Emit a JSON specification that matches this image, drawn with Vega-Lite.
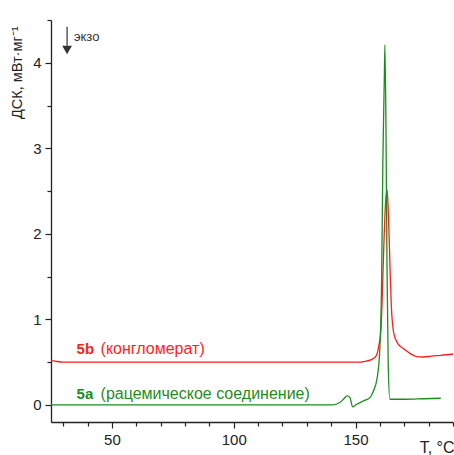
{
  "$schema": "https://vega.github.io/schema/vega-lite/v6.json",
  "width": 402,
  "height": 402,
  "autosize": "none",
  "padding": {"left": 51, "top": 20, "right": 1, "bottom": 33},
  "config": {"view": {"stroke": null}, "font": "Liberation Sans"},
  "datasets": {
    "curves": [
      {"series": "5b", "T": 25, "DSC": 0.52},
      {"series": "5b", "T": 27, "DSC": 0.51},
      {"series": "5b", "T": 30, "DSC": 0.5},
      {"series": "5b", "T": 50, "DSC": 0.5},
      {"series": "5b", "T": 80, "DSC": 0.5},
      {"series": "5b", "T": 110, "DSC": 0.5},
      {"series": "5b", "T": 140, "DSC": 0.5},
      {"series": "5b", "T": 150, "DSC": 0.5},
      {"series": "5b", "T": 154, "DSC": 0.51},
      {"series": "5b", "T": 156.5, "DSC": 0.53},
      {"series": "5b", "T": 158.4, "DSC": 0.57},
      {"series": "5b", "T": 159.6, "DSC": 0.7},
      {"series": "5b", "T": 160.4, "DSC": 0.87},
      {"series": "5b", "T": 161, "DSC": 1.3},
      {"series": "5b", "T": 161.6, "DSC": 1.85},
      {"series": "5b", "T": 162.2, "DSC": 2.3},
      {"series": "5b", "T": 162.9, "DSC": 2.52},
      {"series": "5b", "T": 163.4, "DSC": 2.3},
      {"series": "5b", "T": 164.1, "DSC": 1.65},
      {"series": "5b", "T": 164.7, "DSC": 1.15},
      {"series": "5b", "T": 165.5, "DSC": 0.87},
      {"series": "5b", "T": 166.4, "DSC": 0.77},
      {"series": "5b", "T": 167.5, "DSC": 0.71},
      {"series": "5b", "T": 169, "DSC": 0.67},
      {"series": "5b", "T": 171, "DSC": 0.63},
      {"series": "5b", "T": 173, "DSC": 0.59},
      {"series": "5b", "T": 175, "DSC": 0.565},
      {"series": "5b", "T": 177.8, "DSC": 0.56},
      {"series": "5b", "T": 181, "DSC": 0.57},
      {"series": "5b", "T": 185, "DSC": 0.58},
      {"series": "5b", "T": 190, "DSC": 0.595},
      {"series": "5a", "T": 25, "DSC": 0.0},
      {"series": "5a", "T": 60, "DSC": 0.0},
      {"series": "5a", "T": 100, "DSC": 0.0},
      {"series": "5a", "T": 130, "DSC": 0.0},
      {"series": "5a", "T": 140.7, "DSC": 0.0},
      {"series": "5a", "T": 143.5, "DSC": 0.027},
      {"series": "5a", "T": 145.3, "DSC": 0.075},
      {"series": "5a", "T": 146.5, "DSC": 0.105},
      {"series": "5a", "T": 147.7, "DSC": 0.085},
      {"series": "5a", "T": 148.8, "DSC": -0.023},
      {"series": "5a", "T": 150.3, "DSC": 0.005},
      {"series": "5a", "T": 151.8, "DSC": 0.027},
      {"series": "5a", "T": 154, "DSC": 0.055},
      {"series": "5a", "T": 155.9, "DSC": 0.085},
      {"series": "5a", "T": 157.3, "DSC": 0.16},
      {"series": "5a", "T": 158.9, "DSC": 0.32},
      {"series": "5a", "T": 160, "DSC": 0.67},
      {"series": "5a", "T": 160.7, "DSC": 1.45},
      {"series": "5a", "T": 161.2, "DSC": 2.82},
      {"series": "5a", "T": 161.8, "DSC": 3.8},
      {"series": "5a", "T": 162.05, "DSC": 4.21},
      {"series": "5a", "T": 162.5, "DSC": 3.21},
      {"series": "5a", "T": 162.9, "DSC": 1.65},
      {"series": "5a", "T": 163.4, "DSC": 0.48},
      {"series": "5a", "T": 164.1, "DSC": 0.066},
      {"series": "5a", "T": 170, "DSC": 0.066},
      {"series": "5a", "T": 178, "DSC": 0.072},
      {"series": "5a", "T": 185, "DSC": 0.078}
    ],
    "labels": [
      {"series": "5b", "tag": "5b", "desc": "(конгломерат)", "T": 35.5, "DSC": 0.59},
      {"series": "5a", "tag": "5a", "desc": "(рацемическое соединение)", "T": 35.5, "DSC": 0.07}
    ],
    "arrow": [
      {"T": 31.6, "top": 4.42, "bottom": 4.2, "head": 4.15, "text": "экзо", "textT": 34.4, "textY": 4.3}
    ]
  },
  "layer": [
    {
      "data": {"name": "curves"},
      "mark": {"type": "line", "strokeWidth": 1.3, "interpolate": "monotone"},
      "encoding": {
        "x": {
          "field": "T", "type": "quantitative",
          "scale": {"domain": [25, 190], "nice": false, "zero": false},
          "axis": {
            "title": "T, °C", "titleFontSize": 16, "titleFontWeight": "normal", "titleColor": "#222",
            "titleAnchor": "end", "titleAlign": "right", "titleX": 403, "titleY": 30, "titleBaseline": "alphabetic",
            "values": [30, 40, 50, 60, 70, 80, 90, 100, 110, 120, 130, 140, 150, 160, 170, 180, 190],
            "tickCount": 60,
            "labelExpr": "datum.value % 50 === 0 ? format(datum.value, 'd') : ''",
            "tickSize": {"condition": {"test": "datum.value % 50 === 0", "value": 6}, "value": 4},
            "labelFontSize": 15, "labelColor": "#222", "labelPadding": 4,
            "domainColor": "#222", "tickColor": "#222", "domainWidth": 1.3, "tickWidth": 1.2,
            "grid": false, "labelFlush": false, "labelOverlap": false
          }
        },
        "y": {
          "field": "DSC", "type": "quantitative",
          "scale": {"domain": [-0.2, 4.5], "nice": false, "zero": false},
          "axis": {
            "title": "ДСК, мВт·мг⁻¹", "titleFontSize": 14.5, "titleFontWeight": "normal", "titleColor": "#222",
            "titleAnchor": "end", "titleAngle": -90, "titleAlign": "right", "titleBaseline": "bottom",
            "titleX": -27, "titleY": 6,
            "values": [0, 0.5, 1, 1.5, 2, 2.5, 3, 3.5, 4, 4.5],
            "tickCount": 60,
            "labelExpr": "datum.value % 1 === 0 ? format(datum.value, 'd') : ''",
            "tickSize": {"condition": {"test": "datum.value % 1 === 0", "value": 6}, "value": 4},
            "labelFontSize": 15, "labelColor": "#222", "labelPadding": 4,
            "domainColor": "#222", "tickColor": "#222", "domainWidth": 1.3, "tickWidth": 1.2,
            "grid": false, "labelFlush": false, "labelOverlap": false
          }
        },
        "color": {
          "field": "series", "type": "nominal",
          "scale": {"domain": ["5a", "5b"], "range": ["#1e8c1e", "#ff1e1e"]},
          "legend": null
        }
      }
    },
    {
      "data": {"name": "labels"},
      "mark": {"type": "text", "align": "left", "baseline": "alphabetic", "fontSize": 15, "fontWeight": "bold"},
      "encoding": {
        "x": {"field": "T", "type": "quantitative"},
        "y": {"field": "DSC", "type": "quantitative"},
        "text": {"field": "tag"},
        "color": {"field": "series", "type": "nominal", "legend": null}
      }
    },
    {
      "data": {"name": "labels"},
      "mark": {"type": "text", "align": "left", "baseline": "alphabetic", "fontSize": 16, "dx": 24},
      "encoding": {
        "x": {"field": "T", "type": "quantitative"},
        "y": {"field": "DSC", "type": "quantitative"},
        "text": {"field": "desc"},
        "color": {"field": "series", "type": "nominal", "legend": null}
      }
    },
    {
      "data": {"name": "arrow"},
      "mark": {"type": "rule", "color": "#333", "strokeWidth": 1.2},
      "encoding": {
        "x": {"field": "T", "type": "quantitative"},
        "y": {"field": "top", "type": "quantitative"},
        "y2": {"field": "bottom"}
      }
    },
    {
      "data": {"name": "arrow"},
      "mark": {"type": "point", "shape": "triangle-down", "filled": true, "color": "#333", "size": 95, "opacity": 1},
      "encoding": {
        "x": {"field": "T", "type": "quantitative"},
        "y": {"field": "head", "type": "quantitative"}
      }
    },
    {
      "data": {"name": "arrow"},
      "mark": {"type": "text", "align": "left", "baseline": "middle", "fontSize": 13, "color": "#333"},
      "encoding": {
        "x": {"field": "textT", "type": "quantitative"},
        "y": {"field": "textY", "type": "quantitative"},
        "text": {"field": "text"}
      }
    }
  ]
}
